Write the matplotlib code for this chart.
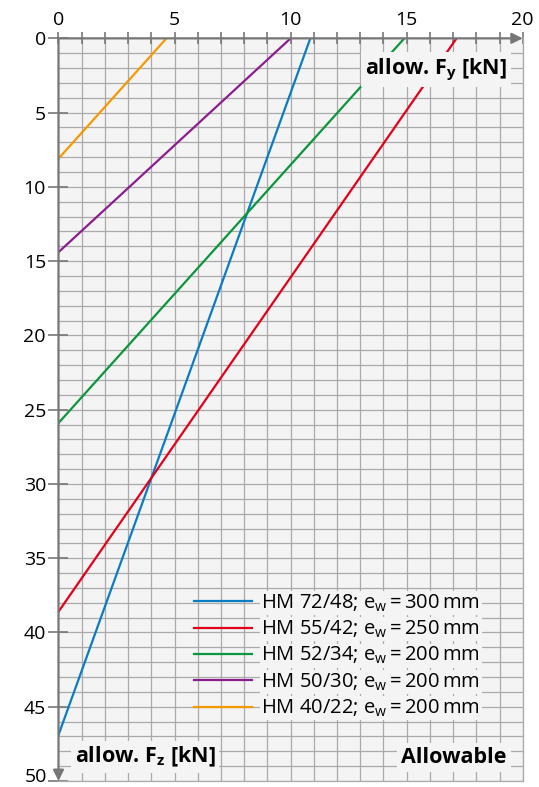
import numpy as np
import matplotlib.pyplot as plt
from matplotlib.ticker import MultipleLocator, FuncFormatter

plt.rcParams['font.family'] = ['Open Sans', 'DejaVu Sans']
plt.rcParams['mathtext.fontset'] = 'custom'
plt.rcParams['mathtext.rm'] = 'Open Sans'
plt.rcParams['mathtext.bf'] = 'Open Sans:bold'
plt.rcParams['mathtext.it'] = 'Open Sans:italic'

# intercepts: Fy at Fz=0, Fz at Fy=0
labels = ["HM 72/48; e$_\\mathrm{w}$\u2009=\u2009300\u2009mm",
          "HM 55/42; e$_\\mathrm{w}$\u2009=\u2009250\u2009mm",
          "HM 52/34; e$_\\mathrm{w}$\u2009=\u2009200\u2009mm",
          "HM 50/30; e$_\\mathrm{w}$\u2009=\u2009200\u2009mm",
          "HM 40/22; e$_\\mathrm{w}$\u2009=\u2009200\u2009mm"]
fy_max = [10.85, 17.15, 14.9, 10.0, 4.65]
fz_max = [46.9, 38.6, 25.9, 14.4, 8.1]
colors = ["#0a7cc2", "#e3001b", "#0a963c", "#8c1d8f", "#f49a00"]
fz_limit = 50

fig = plt.figure(figsize=(5.39, 7.87), dpi=100)
ax = fig.add_axes([0.1085, 0.0076, 0.8613, 0.9437])
ax.set_facecolor("#f4f4f4")

for fy, fz, c, lab in zip(fy_max, fz_max, colors, labels):
    ax.plot([0, fy], [fz, 0], color=c, lw=1.6, label=lab, zorder=3)

ax.set_xlim(0, 20)
ax.set_ylim(fz_limit, 0)
ax.xaxis.set_major_locator(MultipleLocator(5))
ax.xaxis.set_minor_locator(MultipleLocator(1))
ax.yaxis.set_major_locator(MultipleLocator(5))
ax.yaxis.set_minor_locator(MultipleLocator(1))
ax.yaxis.set_major_formatter(FuncFormatter(lambda v, p: "" if v >= fz_limit else f"{v:g}"))
ax.xaxis.tick_top()
ax.grid(True, which='both', color="#aaaaaa", lw=0.9, zorder=1)
ax.set_axisbelow(True)

ax.tick_params(axis='x', which='both', direction='inout', length=9, width=1.2,
               color="#777777", labelsize=14, pad=2)
ax.tick_params(axis='y', which='major', direction='inout', length=14, width=1.2,
               color="#777777", labelsize=14, pad=2)
ax.tick_params(axis='y', which='minor', length=0)

# last y label drawn a little higher so it stays inside the figure
ax.annotate(f"{fz_limit}", xy=(0, fz_limit), xytext=(-8, 3), textcoords='offset points',
            ha='right', va='center', fontsize=14, annotation_clip=False)

for s in ['top', 'left']:
    ax.spines[s].set_visible(False)
for s in ['right', 'bottom']:
    ax.spines[s].set_color("#aaaaaa")
    ax.spines[s].set_linewidth(0.9)

arrow = dict(arrowstyle='-|>', color="#777777", lw=1.6, mutation_scale=16,
             shrinkA=0, shrinkB=0)
ax.annotate('', xy=(1.0, 1.0), xytext=(0, 1.0), xycoords='axes fraction',
            arrowprops=arrow, annotation_clip=False)
ax.annotate('', xy=(0, 0.0), xytext=(0, 1.0), xycoords='axes fraction',
            arrowprops=arrow, annotation_clip=False)

box = dict(facecolor="#f4f4f4", edgecolor='none', pad=3)
ax.text(19.3, 2.1, r"allow. $\mathbf{F_y}$ [kN]", ha='right', va='center',
        fontsize=15.5, fontweight='bold', bbox=box, zorder=4)
ax.text(0.7, 48.4, r"allow. $\mathbf{F_z}$ [kN]", ha='left', va='center',
        fontsize=15.5, fontweight='bold', bbox=box, zorder=4)
ax.text(19.3, 48.4, "Allowable", ha='right', va='center',
        fontsize=15.5, fontweight='bold', bbox=box, zorder=4)

leg = ax.legend(loc='lower right', bbox_to_anchor=(0.93, 0.07), frameon=False,
                fontsize=14.5, handlelength=2.9, handletextpad=0.45,
                labelspacing=0.25, borderpad=0)
for t in leg.get_texts():
    t.set_bbox(dict(facecolor="#f4f4f4", edgecolor='none', pad=1))

plt.savefig("out.png", dpi=100)
